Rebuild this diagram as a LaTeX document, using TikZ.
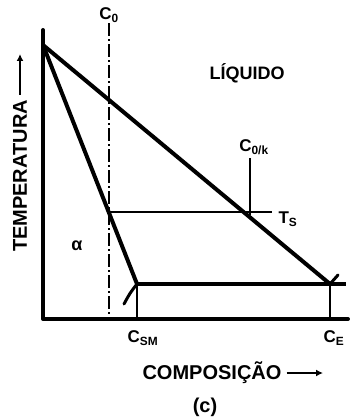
\documentclass[tikz,border=0pt]{standalone}
\usepackage{fontspec}
\setmainfont{Liberation Sans}
\usetikzlibrary{arrows.meta}

\tikzset{
  heavy/.style={line width=4pt, line cap=round, line join=round},
  medium/.style={line width=2.6pt},
  thinline/.style={line width=2pt},
  dashdot/.style={line width=2pt, dash pattern=on 13pt off 3pt on 2pt off 3pt},
  lbl/.style={font=\fontsize{17}{18}\selectfont\bfseries, inner sep=1pt},
  axlbl/.style={font=\fontsize{20}{22}\selectfont\bfseries, inner sep=1pt},
}

\begin{document}
\begin{tikzpicture}[x=1pt, y=-1pt]
  \useasboundingbox (0,0) rectangle (349,420);

  % main points of the diagram
  \coordinate (TA) at (43,45);
  \coordinate (ytop) at (43,30);
  \coordinate (orig) at (43,319);
  \coordinate (xend) at (348,319);
  \coordinate (SM) at (137,284);
  \coordinate (E) at (330,284);
  \coordinate (eend) at (346,284);

  % axes
  \draw[heavy] (ytop) -- (orig) -- (xend);

  % liquidus, solidus and eutectic line
  \draw[heavy] (TA) -- (E);
  \draw[heavy] (TA) -- (SM);
  \draw[line width=3.5pt] (SM) -- (eend);
  \draw[line width=3pt, line cap=round] (SM) .. controls (130,293) .. (124,304);
  \draw[line width=3pt, line cap=round] (E) -- ++(8,-9);

  % composition labels on the axis
  \node[lbl] (csm) at (143,338) {C\textsubscript{SM}};
  \node[lbl] (ce) at (334,338) {C\textsubscript{E}};
  \draw[thinline] (SM) -- (SM |- orig);
  \draw[thinline] (E) -- (E |- orig);

  % C0 line
  \node[lbl] (c0) at (109,15) {C\textsubscript{0}};
  \draw[dashdot] (c0.south) -- (c0.south |- orig);

  % tie line at Ts
  \coordinate (S0) at (108.7,212);
  \coordinate (tsend) at (272,212);
  \draw[medium] (S0) -- (tsend);
  \node[lbl] (ts) at (288,219) {T\textsubscript{S}};

  % C0/k line
  \node[lbl] (c0k) at (254,147) {C\textsubscript{0/k}};
  \coordinate (kt) at (250,158);
  \coordinate (kb) at (250,215);
  \draw[medium] (kt) -- (kb);

  % phase labels
  \node[lbl, font=\fontsize{18}{19}\selectfont\bfseries] (liq) at (247,73) {LÍQUIDO};
  \node[lbl, font=\fontsize{18}{18}\selectfont\bfseries] (alph) at (77,246) {α};

  % axis titles
  \node[axlbl] (comp) at (212,373) {COMPOSIÇÃO};
  \coordinate (carr) at (323,373);
  \draw[medium, -{Latex[length=7pt,width=7pt]}] ([xshift=4pt]comp.east) -- (carr);
  \node[axlbl, rotate=90] (temp) at (20,176) {TEMPERATURA};
  \coordinate (tarr) at (20,54);
  \draw[medium, -{Latex[length=7pt,width=7pt]}] (temp.east) ++(0,-4) -- (tarr);

  \node[axlbl] (cap) at (205,407) {(c)};
\end{tikzpicture}
\end{document}
